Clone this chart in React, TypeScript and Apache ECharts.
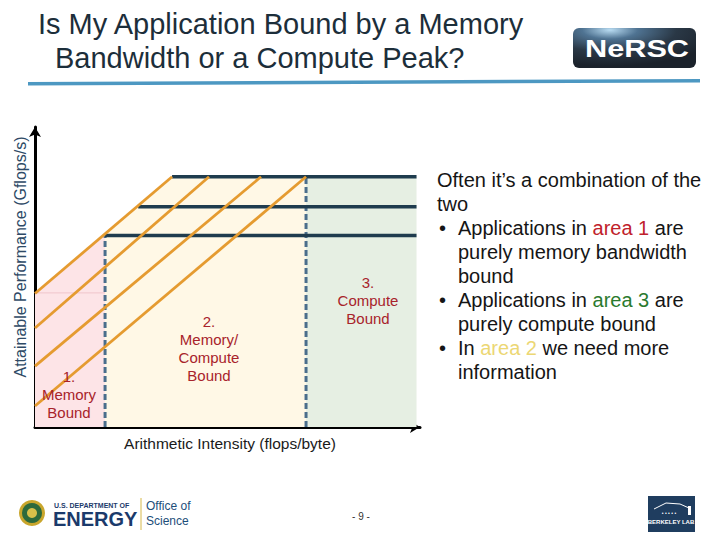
import React, { useEffect, useRef } from "react";
import * as echarts from "echarts";

// ---- data (axis units: 0..10 on both axes) ----
const memoryBoundX = 1.82; // left dashed ridge
const computeBoundX = 7.04; // right dashed ridge
const axisEndX = 9.91;
const roofStartX = [1.82, 2.68, 3.56];
const roofY = [6.38, 7.34, 8.34];
const slopeStartY = [4.45, 3.3, 2.03, 0.7];
const slopeEndX = [3.56, 4.52, 5.87, 7.04];
const pinkTopY = 4.47;

const titleLines = ["Is My Application Bound by a Memory", "Bandwidth or a Compute Peak?"];
const xAxisName = "Arithmetic Intensity (flops/byte)";
const yAxisName = "Attainable Performance (Gflops/s)";
const regionLabels = ["1.\nMemory\nBound", "2.\nMemory/\nCompute\nBound", "3.\nCompute\nBound"];

const FONT = "Liberation Sans, Arial, sans-serif";

export default function App() {
  const ref = useRef<HTMLDivElement>(null);

  useEffect(() => {
    if (!ref.current) return;
    const chart = echarts.init(ref.current, undefined, { renderer: "svg" });
    const topRoof = roofY[roofY.length - 1];
    const ridgeY0 = slopeStartY[0] + (memoryBoundX * (topRoof - slopeStartY[0])) / slopeEndX[0];

    const areaSeries = (data: number[][], color: string) => ({
      type: "line",
      data,
      showSymbol: false,
      symbol: "none",
      lineStyle: { width: 0 },
      areaStyle: { color, opacity: 1 },
      z: 1,
      silent: true,
    });
    const lineSeries = (data: number[][], color: string, width: number, type: any, z: number) => ({
      type: "line",
      data,
      showSymbol: false,
      symbol: "none",
      lineStyle: { color, width, type },
      z,
      silent: true,
    });

    const series: any[] = [
      areaSeries([[0, slopeStartY[0]], [memoryBoundX, ridgeY0]], "#fde4e7"),
      areaSeries([[memoryBoundX, ridgeY0], [slopeEndX[0], topRoof], [computeBoundX, topRoof]], "#fff8e6"),
      areaSeries([[computeBoundX, topRoof], [axisEndX, topRoof]], "#e6efe3"),
      lineSeries([[0, pinkTopY], [memoryBoundX, pinkTopY]], "#f0c6cb", 1, "solid", 2),
      lineSeries([[memoryBoundX, 0], [memoryBoundX, roofY[0]]], "#4b6e8c", 3, [6, 3], 3),
      lineSeries([[computeBoundX, 0], [computeBoundX, topRoof]], "#4b6e8c", 3, [6, 3], 3),
    ];
    roofY.forEach((y, i) => {
      series.push(lineSeries([[roofStartX[i], y], [axisEndX, y]], "#1f3c4e", 3.5, "solid", 4));
    });
    slopeStartY.forEach((y, i) => {
      series.push(lineSeries([[0, y], [slopeEndX[i], topRoof]], "#e59b30", 2.8, "solid", 5));
    });

    const axisCommon = {
      type: "value",
      min: 0,
      max: 10,
      axisLine: {
        show: true,
        lineStyle: { color: "#000", width: 3 },
        symbol: ["none", "arrow"],
        symbolSize: [9, 10],
      },
      axisTick: { show: false },
      axisLabel: { show: false },
      splitLine: { show: false },
    };

    const labelStyle = (text: string) => ({
      text,
      fill: "#a8232b",
      font: `15px ${FONT}`,
      align: "center",
      verticalAlign: "middle",
      lineHeight: 18,
    });

    const bodyFont = `20px ${FONT}`;
    const rich = {
      n: { fill: "#151515", font: bodyFont },
      r: { fill: "#c0212b", font: bodyFont },
      g: { fill: "#2a7a2e", font: bodyFont },
      y: { fill: "#ecd774", font: bodyFont },
    };
    const bodyText = (x: number, y: number, text: string) => ({
      type: "text",
      x,
      y,
      style: { text, rich, fill: "#151515", font: bodyFont, verticalAlign: "middle" },
    });

    const graphic: any[] = [
      // title
      { type: "text", x: 38, y: 24, style: { text: titleLines[0], fill: "#1c2e3a", font: `29px ${FONT}`, verticalAlign: "middle" } },
      { type: "text", x: 55, y: 58, style: { text: titleLines[1], fill: "#1c2e3a", font: `29px ${FONT}`, verticalAlign: "middle" } },
      // blue underline bar
      { type: "polygon", shape: { points: [[28, 82], [700, 79], [700, 82.5], [28, 85.5]] }, style: { fill: "#4d98c2" } },
      // NERSC logo
      {
        type: "rect",
        shape: { x: 573, y: 28, width: 123, height: 40, r: 6 },
        style: {
          fill: new echarts.graphic.RadialGradient(0.3, 0.05, 0.9, [
            { offset: 0, color: "#b9dcf2" },
            { offset: 0.25, color: "#4f7392" },
            { offset: 0.6, color: "#2a3846" },
            { offset: 1, color: "#1b222b" },
          ]),
        },
      },
      { type: "text", x: 637, y: 49, scaleX: 1.28, style: { text: "NeRSC", fill: "#ffffff", font: `bold 24px ${FONT}`, align: "center", verticalAlign: "middle" } },
      // axis names
      { type: "text", x: 20, y: 257, rotation: Math.PI / 2, style: { text: yAxisName, fill: "#2e4a66", font: `16px ${FONT}`, align: "center", verticalAlign: "middle" } },
      { type: "text", x: 230, y: 443, style: { text: xAxisName, fill: "#1a1a1a", font: `15.5px ${FONT}`, align: "center", verticalAlign: "middle" } },
      // region labels
      { type: "text", x: 69, y: 394, z: 100, style: labelStyle(regionLabels[0]) },
      { type: "text", x: 209, y: 348, z: 100, style: labelStyle(regionLabels[1]) },
      { type: "text", x: 368, y: 300, z: 100, style: labelStyle(regionLabels[2]) },
      // right-hand text
      bodyText(437, 180, "Often it\u2019s a combination of the"),
      bodyText(437, 204, "two"),
      bodyText(439, 228, "\u2022"),
      bodyText(458, 228, "{n|Applications in }{r|area 1}{n| are}"),
      bodyText(458, 252, "purely memory bandwidth"),
      bodyText(458, 276, "bound"),
      bodyText(439, 300, "\u2022"),
      bodyText(458, 300, "{n|Applications in }{g|area 3}{n| are}"),
      bodyText(458, 324, "purely compute bound"),
      bodyText(439, 348, "\u2022"),
      bodyText(458, 348, "{n|In }{y|area 2}{n| we need more}"),
      bodyText(458, 372, "information"),
      // DOE logo
      { type: "circle", shape: { cx: 32, cy: 513, r: 13 }, style: { fill: "#c9a62c" } },
      { type: "circle", shape: { cx: 32, cy: 513, r: 10 }, style: { fill: "#2d6a3c" } },
      { type: "circle", shape: { cx: 32, cy: 513, r: 5 }, style: { fill: "#d8c04a" } },
      { type: "text", x: 54, y: 505, style: { text: "U.S. DEPARTMENT OF", fill: "#1b3a6b", font: `bold 7px ${FONT}`, verticalAlign: "middle" } },
      { type: "text", x: 53, y: 519, style: { text: "ENERGY", fill: "#1b3a6b", font: `bold 20px ${FONT}`, verticalAlign: "middle" } },
      { type: "line", shape: { x1: 141, y1: 498, x2: 141, y2: 530 }, style: { stroke: "#d6b84a", lineWidth: 1 } },
      { type: "text", x: 146, y: 506, style: { text: "Office of", fill: "#1d4e7a", font: `12px ${FONT}`, verticalAlign: "middle" } },
      { type: "text", x: 146, y: 521, style: { text: "Science", fill: "#1d4e7a", font: `12px ${FONT}`, verticalAlign: "middle" } },
      // page number
      { type: "text", x: 361, y: 516, style: { text: "- 9 -", fill: "#333", font: `10px ${FONT}`, align: "center", verticalAlign: "middle" } },
      // Berkeley Lab logo
      { type: "rect", shape: { x: 648, y: 496, width: 47, height: 36 }, style: { fill: "#1f3d5f" } },
      { type: "polyline", shape: { points: [[654, 509], [666, 503], [680, 504], [689, 508]] }, style: { stroke: "#ffffff", lineWidth: 1, fill: "none" } },
      { type: "rect", shape: { x: 688, y: 506, width: 3, height: 9 }, style: { fill: "#ffffff" } },
      { type: "text", x: 669, y: 513, style: { text: "\u2022 \u2022 \u2022 \u2022 \u2022", fill: "#ffffff", font: `5px ${FONT}`, align: "center", verticalAlign: "middle" } },
      { type: "text", x: 671, y: 522, style: { text: "BERKELEY LAB", fill: "#ffffff", font: `bold 6px ${FONT}`, align: "center", verticalAlign: "middle" } },
    ];

    chart.setOption({
      animation: false,
      backgroundColor: "#ffffff",
      grid: { left: 35, top: 127, width: 385, height: 300, containLabel: false },
      xAxis: axisCommon,
      yAxis: axisCommon,
      series,
      graphic,
    });
    return () => chart.dispose();
  }, []);

  return <div ref={ref} style={{ position: "fixed", left: 0, top: 0, width: 720, height: 540 }} />;
}
